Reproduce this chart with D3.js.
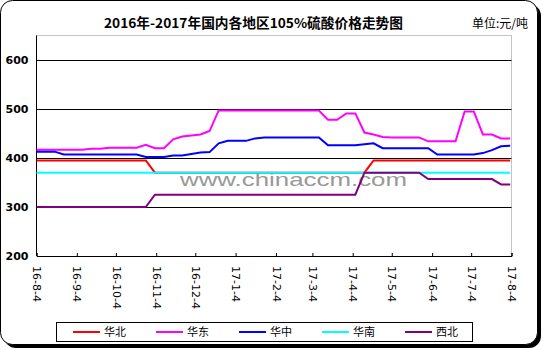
<!DOCTYPE html>
<html>
<head>
<meta charset="utf-8">
<script src="https://cdn.jsdelivr.net/npm/d3@7"></script>
<style>
  body { margin: 0; background: #fff; }
  svg { display: block; }
</style>
</head>
<body>
<div id="chart"></div>
<script>
// 数据：每周一个点，从 2016-08-04 开始
const startDate = "2016-08-04";
const weekCount = 53;

const regions = ["华北", "华东", "华中", "华南", "西北"];
const colors = ["#ff0000", "#ff00ff", "#0000ff", "#00ffff", "#800080"];

const huabei = [395,395,395,395,395,395,395,395,395,395,395,395,395,370,370,370,370,370,370,370,
  370,370,370,370,370,370,370,370,370,370,370,370,370,370,370,370,370,395,395,395,
  395,395,395,395,395,395,395,395,395,395,395,395,395];
const huadong = [417,417,417,417,417,417,419,419,421,421,421,421,427,420,420,438,444,446,448,455,
  497,497,497,497,497,497,497,497,497,497,497,497,478,478,491,491,452,448,443,442,
  442,442,442,434,434,434,434,495,495,448,448,440,440];
const huazhong = [413,413,413,407,407,407,407,407,407,407,407,407,402,402,402,405,405,408,411,412,
  430,435,435,435,440,442,442,442,442,442,442,442,426,426,426,426,428,430,420,420,
  420,420,420,420,407,407,407,407,407,410,416,424,425];
const huanan = [370,370,370,370,370,370,370,370,370,370,370,370,370,370,370,370,370,370,370,370,
  370,370,370,370,370,370,370,370,370,370,370,370,370,370,370,370,370,370,370,370,
  370,370,370,370,370,370,370,370,370,370,370,370,370];
const xibei = [300,300,300,300,300,300,300,300,300,300,300,300,300,325,325,325,325,325,325,325,
  325,325,325,325,325,325,325,325,325,325,325,325,325,325,325,325,370,370,370,370,
  370,370,370,357,357,357,357,357,357,357,357,346,346];

const xTickLabels = ["16-8-4","16-9-4","16-10-4","16-11-4","16-12-4","17-1-4","17-2-4",
  "17-3-4","17-4-4","17-5-4","17-6-4","17-7-4","17-8-4"];
const yTicks = [200, 300, 400, 500, 600];

const W = 543, H = 350;
const parse = d3.timeParse("%y-%m-%d");
const t0 = d3.timeParse("%Y-%m-%d")(startDate);
const dates = d3.range(weekCount).map(i => d3.timeDay.offset(t0, i * 7));
const seriesValues = [huabei, huadong, huazhong, huanan, xibei];

const svg = d3.select("#chart").append("svg")
  .attr("width", W).attr("height", H);

// 外框（带阴影的圆角矩形）
svg.append("rect").attr("x", 4).attr("y", 4).attr("width", 537).attr("height", 344)
  .attr("rx", 12).attr("fill", "#000");
svg.append("rect").attr("x", 0.5).attr("y", 0.5).attr("width", 537).attr("height", 344)
  .attr("rx", 12).attr("fill", "#fff").attr("stroke", "#000");

const plot = { left: 36.5, right: 511.5, top: 35.5, bottom: 256 };

const x = d3.scaleTime()
  .domain([parse(xTickLabels[0]), parse(xTickLabels[xTickLabels.length - 1])])
  .range([plot.left, plot.right]);
const y = d3.scaleLinear().domain([200, 650]).range([plot.bottom, plot.top]);

// 标题
svg.append("text")
  .attr("x", 104).attr("y", 28)
  .attr("textLength", 299).attr("lengthAdjust", "spacingAndGlyphs")
  .style("font-family", "'Noto Sans CJK SC', sans-serif")
  .style("font-weight", "bold").style("font-size", "13.5px")
  .text("2016年-2017年国内各地区105%硫酸价格走势图");
svg.append("text")
  .attr("x", 528).attr("y", 28)
  .attr("text-anchor", "end")
  .style("font-family", "'Noto Sans CJK SC', sans-serif")
  .style("font-size", "12px")
  .text("单位:元/吨");

// 绘图区边框（上、右为灰色虚线）
svg.append("path")
  .attr("d", `M${plot.left},${plot.top}H${plot.right}V${plot.bottom}`)
  .attr("fill", "none").attr("stroke", "#888").attr("stroke-dasharray", "1,1");

// 网格线
svg.append("g").selectAll("line")
  .data(yTicks.slice(1))
  .join("line")
  .attr("x1", plot.left).attr("x2", plot.right)
  .attr("y1", d => Math.round(y(d)) + 0.5).attr("y2", d => Math.round(y(d)) + 0.5)
  .attr("stroke", "#000");

// 水印
svg.append("text")
  .attr("x", 180).attr("y", 186)
  .attr("textLength", 227).attr("lengthAdjust", "spacingAndGlyphs")
  .style("font-family", "'Liberation Sans', Arial, sans-serif")
  .style("font-size", "19px")
  .attr("fill", "#999")
  .text("www.chinaccm.com");

// Y 轴
const yAxis = svg.append("g")
  .attr("transform", `translate(${plot.left},0)`)
  .call(d3.axisLeft(y).tickValues(yTicks).tickSize(0).tickPadding(8));
yAxis.select(".domain").attr("stroke", "#000").attr("d", `M0,${plot.top}V${plot.bottom}`);
yAxis.selectAll("text")
  .style("font-family", "'DejaVu Sans', sans-serif")
  .style("font-weight", "bold").style("font-size", "11px")
  .attr("fill", "#000");

// X 轴
const xAxis = svg.append("g")
  .attr("transform", `translate(0,${plot.bottom})`)
  .call(d3.axisBottom(x).tickValues(xTickLabels.map(parse)).tickSize(-3)
    .tickFormat((d, i) => xTickLabels[i]));
xAxis.select(".domain").attr("stroke", "#000");
xAxis.selectAll(".tick line").attr("stroke", "#000");
xAxis.selectAll("text")
  .attr("transform", "rotate(90)")
  .attr("x", 10).attr("y", 0).attr("dy", "0.35em")
  .attr("text-anchor", "start")
  .style("font-family", "'DejaVu Sans', sans-serif")
  .style("font-size", "11px")
  .attr("fill", "#000");

// 折线
const line = d3.line()
  .x((d, i) => x(dates[i]))
  .y(d => y(d));

svg.append("g").selectAll("path")
  .data(seriesValues)
  .join("path")
  .attr("d", d => line(d))
  .attr("fill", "none")
  .attr("stroke", (d, i) => colors[i])
  .attr("stroke-width", 2);

// 图例
svg.append("rect")
  .attr("x", 56.5).attr("y", 322.5).attr("width", 416).attr("height", 19)
  .attr("fill", "#fff").attr("stroke", "#000");
const legend = svg.append("g").selectAll("g")
  .data(regions)
  .join("g")
  .attr("transform", (d, i) => `translate(${73 + i * 83},332)`);
legend.append("line")
  .attr("x1", 0).attr("x2", 27)
  .attr("stroke", (d, i) => colors[i]).attr("stroke-width", 2);
legend.append("text")
  .attr("x", 31).attr("dy", "0.35em")
  .style("font-family", "'Noto Sans CJK SC', sans-serif")
  .style("font-size", "11px")
  .text(d => d);
</script>
</body>
</html>
